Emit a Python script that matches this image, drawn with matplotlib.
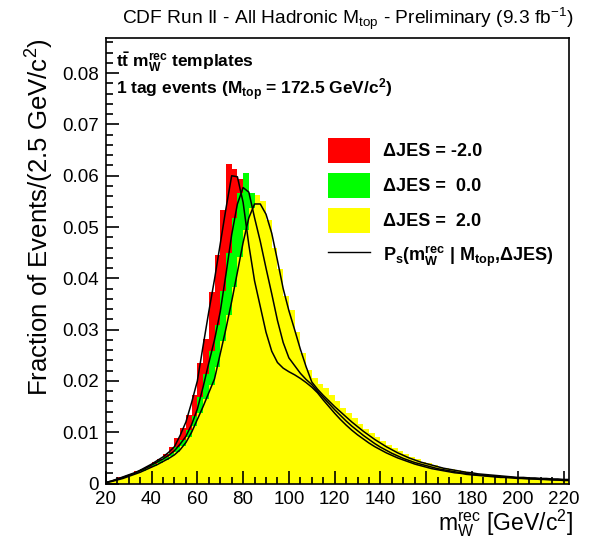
import numpy as np
import matplotlib
matplotlib.use('Agg')
import matplotlib.pyplot as plt
from matplotlib.patches import Patch
from matplotlib.lines import Line2D
from matplotlib.ticker import MultipleLocator, FuncFormatter

plt.rcParams['font.family'] = ['Liberation Sans', 'DejaVu Sans']
plt.rcParams['mathtext.default'] = 'regular'

# template histograms (fraction per 2.5 GeV bin, first bin starts at 20 GeV)
hist_jes_m2 = [
    0.0004, 0.0007, 0.0012, 0.0015, 0.0019, 0.0024, 0.0029, 0.0035, 0.0043, 0.0048,
    0.0058, 0.0071, 0.0089, 0.0108, 0.0134, 0.0173, 0.0235, 0.0282, 0.0374, 0.0446,
    0.0533, 0.0623, 0.0613, 0.0593, 0.0515, 0.0430, 0.0370, 0.0318, 0.0275, 0.0248,
    0.0232, 0.0222, 0.0215, 0.0208, 0.0200, 0.0192, 0.0182, 0.0170, 0.0157, 0.0144,
    0.0131, 0.0120, 0.0109, 0.0100, 0.0091, 0.0083, 0.0076, 0.0069, 0.0063, 0.0057,
    0.0052, 0.0048, 0.0044, 0.0040, 0.0037, 0.0033, 0.0031, 0.0028, 0.0026, 0.0024,
    0.0022, 0.0021, 0.0019, 0.0018, 0.0017, 0.0015, 0.0015, 0.0013, 0.0013, 0.0012,
    0.0011, 0.0011, 0.0012, 0.0009, 0.0009, 0.0008, 0.0008, 0.0007, 0.0007, 0.0006,
    0.0006]
hist_jes_0 = [
    0.0003, 0.0007, 0.0010, 0.0015, 0.0018, 0.0023, 0.0028, 0.0033, 0.0039, 0.0046,
    0.0051, 0.0060, 0.0071, 0.0085, 0.0104, 0.0131, 0.0168, 0.0213, 0.0259, 0.0310,
    0.0375, 0.0449, 0.0518, 0.0567, 0.0605, 0.0566, 0.0500, 0.0447, 0.0395, 0.0345,
    0.0297, 0.0262, 0.0238, 0.0223, 0.0209, 0.0198, 0.0187, 0.0174, 0.0162, 0.0150,
    0.0139, 0.0128, 0.0117, 0.0108, 0.0099, 0.0090, 0.0082, 0.0075, 0.0068, 0.0062,
    0.0057, 0.0052, 0.0047, 0.0043, 0.0040, 0.0037, 0.0041, 0.0031, 0.0028, 0.0026,
    0.0024, 0.0023, 0.0021, 0.0023, 0.0018, 0.0017, 0.0016, 0.0015, 0.0014, 0.0013,
    0.0012, 0.0012, 0.0011, 0.0010, 0.0010, 0.0009, 0.0009, 0.0008, 0.0008, 0.0007,
    0.0007]
hist_jes_p2 = [
    0.0003, 0.0006, 0.0009, 0.0012, 0.0016, 0.0020, 0.0025, 0.0030, 0.0035, 0.0040,
    0.0046, 0.0053, 0.0061, 0.0073, 0.0090, 0.0112, 0.0138, 0.0164, 0.0192, 0.0228,
    0.0278, 0.0329, 0.0384, 0.0442, 0.0495, 0.0538, 0.0563, 0.0550, 0.0514, 0.0460,
    0.0418, 0.0365, 0.0338, 0.0295, 0.0255, 0.0222, 0.0205, 0.0195, 0.0186, 0.0172,
    0.0160, 0.0148, 0.0137, 0.0127, 0.0116, 0.0107, 0.0098, 0.0090, 0.0083, 0.0076,
    0.0069, 0.0063, 0.0057, 0.0052, 0.0047, 0.0043, 0.0040, 0.0036, 0.0033, 0.0030,
    0.0028, 0.0026, 0.0024, 0.0022, 0.0021, 0.0019, 0.0018, 0.0017, 0.0016, 0.0015,
    0.0014, 0.0013, 0.0012, 0.0012, 0.0011, 0.0011, 0.0010, 0.0010, 0.0009, 0.0009,
    0.0008]

# fitted signal pdf P_s, read every 2.5 GeV from 20 GeV on
pdf_jes_m2 = [
    0.0002, 0.0005, 0.0009, 0.0013, 0.0017, 0.0021, 0.0026, 0.0032, 0.0038, 0.0045,
    0.0052, 0.0061, 0.0072, 0.0094, 0.0120, 0.0158, 0.0200, 0.0268, 0.0335, 0.0398,
    0.0467, 0.0536, 0.0600, 0.0598, 0.0548, 0.0465, 0.0395, 0.0345, 0.0295, 0.0258,
    0.0236, 0.0225, 0.0218, 0.0212, 0.0205, 0.0197, 0.0188, 0.0177, 0.0163, 0.0150,
    0.0137, 0.0125, 0.0114, 0.0104, 0.0095, 0.0087, 0.0079, 0.0072, 0.0066, 0.0060,
    0.0055, 0.0050, 0.0046, 0.0042, 0.0038, 0.0035, 0.0032, 0.0029, 0.0027, 0.0025,
    0.0023, 0.0021, 0.0020, 0.0018, 0.0017, 0.0016, 0.0015, 0.0014, 0.0013, 0.0012,
    0.0012, 0.0011, 0.0010, 0.0010, 0.0009, 0.0009, 0.0008, 0.0008, 0.0007, 0.0007,
    0.0006, 0.0006]
pdf_jes_0 = [
    0.0002, 0.0005, 0.0008, 0.0012, 0.0016, 0.0020, 0.0025, 0.0030, 0.0036, 0.0042,
    0.0048, 0.0055, 0.0064, 0.0077, 0.0092, 0.0115, 0.0145, 0.0188, 0.0235, 0.0280,
    0.0335, 0.0408, 0.0485, 0.0545, 0.0577, 0.0568, 0.0518, 0.0472, 0.0420, 0.0370,
    0.0318, 0.0275, 0.0245, 0.0230, 0.0215, 0.0203, 0.0193, 0.0180, 0.0168, 0.0156,
    0.0144, 0.0133, 0.0122, 0.0112, 0.0103, 0.0094, 0.0086, 0.0078, 0.0071, 0.0065,
    0.0059, 0.0054, 0.0049, 0.0045, 0.0041, 0.0038, 0.0035, 0.0032, 0.0029, 0.0027,
    0.0025, 0.0023, 0.0021, 0.0020, 0.0018, 0.0017, 0.0016, 0.0015, 0.0014, 0.0013,
    0.0012, 0.0012, 0.0011, 0.0010, 0.0010, 0.0009, 0.0009, 0.0008, 0.0008, 0.0007,
    0.0007, 0.0007]
pdf_jes_p2 = [
    0.0002, 0.0004, 0.0007, 0.0010, 0.0014, 0.0018, 0.0022, 0.0027, 0.0032, 0.0037,
    0.0043, 0.0049, 0.0056, 0.0066, 0.0080, 0.0100, 0.0125, 0.0150, 0.0177, 0.0204,
    0.0253, 0.0302, 0.0355, 0.0412, 0.0470, 0.0518, 0.0545, 0.0545, 0.0525, 0.0488,
    0.0435, 0.0380, 0.0337, 0.0300, 0.0262, 0.0228, 0.0198, 0.0184, 0.0172, 0.0161,
    0.0150, 0.0140, 0.0130, 0.0120, 0.0111, 0.0102, 0.0094, 0.0086, 0.0079, 0.0072,
    0.0066, 0.0060, 0.0055, 0.0050, 0.0046, 0.0042, 0.0039, 0.0036, 0.0033, 0.0030,
    0.0028, 0.0026, 0.0024, 0.0022, 0.0021, 0.0019, 0.0018, 0.0017, 0.0016, 0.0015,
    0.0014, 0.0013, 0.0012, 0.0012, 0.0011, 0.0011, 0.0010, 0.0010, 0.0009, 0.0009,
    0.0008, 0.0008]

jes_labels = ['\u0394JES = -2.0', '\u0394JES =  0.0', '\u0394JES =  2.0']
pdf_label = r'P$_{s}$(m$_{W}^{rec}$ | M$_{top}$,' + '\u0394JES)'
colors = ['#ff0000', '#00ff00', '#ffff00']

fig = plt.figure(figsize=(5.99, 5.45), dpi=100)
ax = fig.add_axes([0.1766, 0.1127, 0.7738, 0.8171])

# red first, yellow drawn last (on top)
for h, c in zip([hist_jes_m2, hist_jes_0, hist_jes_p2], colors):
    edges = 20 + 2.5 * np.arange(len(h) + 1)
    ax.stairs(h, edges, fill=True, color=c, lw=0)

for p in [pdf_jes_m2, pdf_jes_0, pdf_jes_p2]:
    m = 20 + 2.5 * np.arange(len(p))
    ax.plot(m, p, color='black', lw=1.1)

ax.set_xlim(20, 222.5)
ax.set_ylim(0, 0.0868)
ax.xaxis.set_major_locator(MultipleLocator(20))
ax.xaxis.set_minor_locator(MultipleLocator(5))
ax.yaxis.set_major_locator(MultipleLocator(0.01))
ax.yaxis.set_minor_locator(MultipleLocator(0.002))
ax.yaxis.set_major_formatter(FuncFormatter(lambda v, pos: '0' if abs(v) < 1e-9 else '%.2f' % v))
ax.tick_params(which='both', direction='in', top=False, right=False, width=1.2, labelsize=13.5)
ax.tick_params(which='major', length=9.5, pad=5)
ax.tick_params(which='minor', length=5)
for s in ax.spines.values():
    s.set_linewidth(1.2)

fig.text(348 / 599, 1 - 24 / 545, r'CDF Run II - All Hadronic M$_{top}$ - Preliminary (9.3 fb$^{-1}$)',
         ha='center', va='baseline', fontsize=13.8)
fig.text(40 / 599, 1 - 38 / 545, 'Fraction of Events/(2.5 GeV/c$^{2}$)', rotation=90,
         ha='center', va='top', fontsize=18.5)
fig.text(573 / 599, 1 - 530 / 545, r'm$_{W}^{rec}$ [GeV/c$^{2}$]', ha='right', va='baseline', fontsize=16.5)

fig.text(116 / 599, 1 - 68 / 545, r't$\bar{t}$ m$_{W}^{rec}$ templates', fontweight='bold',
         fontsize=12.5, va='baseline')
fig.text(116 / 599, 1 - 95 / 545, r'1 tag events (M$_{top}$ = 172.5 GeV/c$^{2}$)', fontweight='bold',
         fontsize=12.5, va='baseline')

handles = [Patch(facecolor=c, edgecolor='none') for c in colors]
handles.append(Line2D([], [], color='black', lw=1.0))
ax.legend(handles, jes_labels + [pdf_label], loc='upper left',
          bbox_to_anchor=(328 / 599, 1 - 138 / 545), bbox_transform=fig.transFigure,
          frameon=False, borderpad=0, borderaxespad=0, handlelength=2.33, handleheight=1.72,
          labelspacing=0.58, handletextpad=0.72, prop={'weight': 'bold', 'size': 13})

fig.savefig('out.png', dpi=100)
